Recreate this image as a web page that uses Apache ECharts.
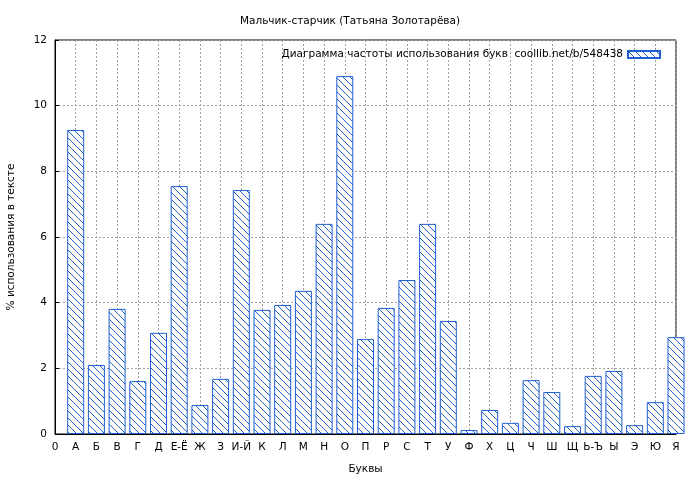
<!DOCTYPE html>
<html><head><meta charset="utf-8">
<script src="https://cdn.jsdelivr.net/npm/echarts@6/dist/echarts.min.js"></script>
<style>html,body{margin:0;padding:0;background:#fff}#c{width:700px;height:480px}</style>
</head><body><div id="c"></div>
<script>
const tickLabels = ['0','А','Б','В','Г','Д','Е-Ё','Ж','З','И-Й','К','Л','М','Н','О','П','Р','С','Т','У','Ф','Х','Ц','Ч','Ш','Щ','Ь-Ъ','Ы','Э','Ю','Я'];
const values = [9.26,2.10,3.81,1.61,3.08,7.55,0.88,1.68,7.43,3.78,3.93,4.36,6.40,10.9,2.89,3.84,4.69,6.40,3.44,0.12,0.73,0.34,1.64,1.28,0.24,1.77,1.92,0.27,0.97,2.95];
const seriesName = 'Диаграмма частоты использования букв  coollib.net/b/548438';

const cv = document.createElement('canvas'); cv.width = 7; cv.height = 7;
const g = cv.getContext('2d');
g.fillStyle = '#fff'; g.fillRect(0,0,7,7);
g.strokeStyle = '#1f5fd0'; g.lineWidth = 1;
g.beginPath(); g.moveTo(-1,-1); g.lineTo(8,8); g.moveTo(-8,-1); g.lineTo(1,8); g.moveTo(6,-1); g.lineTo(15,8); g.stroke();

const font = 'DejaVu Sans';
const chart = echarts.init(document.getElementById('c'));
chart.setOption({
  animation:false,
  textStyle:{fontFamily:font},
  title:{text:'Мальчик-старчик (Татьяна Золотарёва)',left:'center',top:11,textStyle:{fontSize:10.5,fontWeight:'normal',color:'#000',fontFamily:font}},
  legend:{right:34,top:44,align:'right',icon:'rect',itemWidth:32,itemHeight:7,itemGap:8,textStyle:{fontSize:10.5,color:'#000',fontFamily:font},data:[seriesName]},
  grid:{left:55,width:621,top:40,height:394,containLabel:false,outerBoundsMode:'none',show:true,borderColor:'#000',borderWidth:1},
  xAxis:{type:'value',min:0,max:30,interval:1,name:'Буквы',nameLocation:'middle',nameGap:30,
    nameTextStyle:{fontSize:10.5,color:'#000'},
    axisLine:{show:true,onZero:false,lineStyle:{color:'#000'}},
    axisTick:{inside:true,length:4,lineStyle:{color:'#000'}},
    axisLabel:{fontSize:10.5,color:'#000',formatter:v=>tickLabels[v]},
    splitLine:{show:true,lineStyle:{color:'#a0a0a0',type:[2,2]}}},
  yAxis:{type:'value',min:0,max:12,interval:2,name:'% использования в тексте',nameLocation:'middle',nameGap:38,
    nameTextStyle:{fontSize:10.5,color:'#000'},
    axisLine:{show:true,lineStyle:{color:'#000'}},
    axisTick:{inside:true,length:4,lineStyle:{color:'#000'}},
    axisLabel:{fontSize:10.5,color:'#000'},
    splitLine:{show:true,lineStyle:{color:'#a0a0a0',type:[2,2]}}},
  series:[{name:seriesName,type:'bar',barWidth:17,clip:true,
    itemStyle:{color:{image:cv,repeat:'repeat'},borderColor:'#1f5fd0',borderWidth:1},
    data:values.map((v,i)=>[i+1,v])}]
});
</script></body></html>
